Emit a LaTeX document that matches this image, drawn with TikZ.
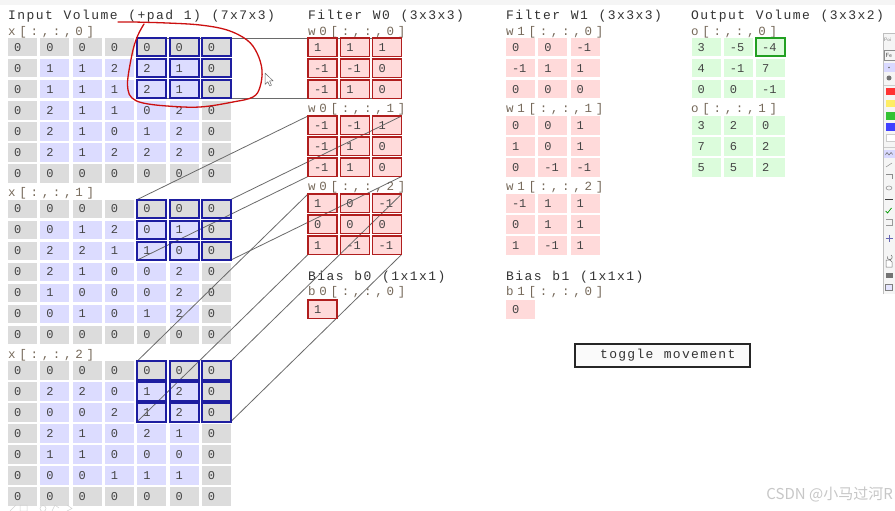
\documentclass[tikz,border=0pt]{standalone}
\usepackage{fontspec}
\setmonofont{Liberation Mono}
\newfontfamily\cjkfont{Noto Sans CJK SC}
\definecolor{padgray}{HTML}{DCDCDC}
\definecolor{inblue}{HTML}{DCDCFF}
\definecolor{pinkc}{HTML}{FFDADA}
\definecolor{greenc}{HTML}{DCFCDC}
\definecolor{navyb}{HTML}{1E1EA0}
\definecolor{redb}{HTML}{B01E1E}
\definecolor{greenb}{HTML}{22A022}
\definecolor{celltext}{HTML}{444444}
\definecolor{titletext}{HTML}{333333}
\definecolor{lbltext}{HTML}{76695A}
\definecolor{linegray}{HTML}{6A6A6A}
\definecolor{annot}{HTML}{CC1010}
\newlength\chw
\makeatletter
\def\mono@end{mono@end}
\def\mono#1#2{\chw=#1\relax\mono@loop#2\mono@end}
\def\mono@loop#1{\ifx#1\mono@end\else\makebox[\chw][l]{#1}\expandafter\mono@loop\fi}
\makeatother
\newcommand\cellfont{\ttfamily\fontsize{12}{12}\selectfont}
\newcommand\titlefont{\ttfamily\fontsize{13}{13}\selectfont}
\newcommand\lblfont{\ttfamily\fontsize{12.5}{12.5}\selectfont}
% input grid: #1 depth, #2 data
\newcommand\inputgrid[2]{%
  \foreach \row [count=\rr from 0] in {#2} {%
    \foreach \val [count=\cc from 0] in \row {%
      \pgfmathtruncatemacro\ispad{(\rr==0)||(\rr==6)||(\cc==0)||(\cc==6)}%
      \ifnum\ispad=1 \def\cfill{padgray}\else\def\cfill{inblue}\fi
      \node[gcell, fill=\cfill, anchor=north west] (x#1-\rr-\cc) at ({8+32.33*\cc},{38+161.5*#1+21*\rr}) {\val};
    }%
  }%
}
% small grid: #1 prefix, #2 x, #3 y, #4 fill, #5 data
\newcommand\fgrid[5]{%
  \foreach \row [count=\rr from 0] in {#5} {%
    \foreach \val [count=\cc from 0] in \row {%
      \node[gcell, fill=#4, anchor=north west] (#1-\rr-\cc) at ({#2+32.33*\cc},{#3+21*\rr}) {\val};
    }%
  }%
}
\begin{document}
\begin{tikzpicture}[x=1pt,y=-1pt,
  gcell/.style={rectangle, inner sep=0pt, inner xsep=6pt, text width=17pt,
    minimum height=18.5pt, align=left, font=\cellfont, text=celltext,
    text height=8pt, text depth=0pt, outer sep=0pt},
  ttl/.style={anchor=west, inner sep=0pt, font=\titlefont, text=titletext},
  lbl/.style={anchor=west, inner sep=0pt, font=\lblfont, text=lbltext},
  conn/.style={draw=linegray, line width=0.8pt},
  winb/.style={draw=navyb, line width=2pt},
  redbord/.style={draw=redb, line width=1.6pt},
  grnbord/.style={draw=greenb, line width=2pt}]
\useasboundingbox (0,0) rectangle (895,511);
\fill[white] (0,0) rectangle (895,511);
\fill[black!4] (0,0) rectangle (895,5);

% ---------- titles and labels ----------
\node[ttl] (t-in) at (8,16.5) {\mono{9.25pt}{Input~Volume~(+pad~1)~(7x7x3)}};
\node[ttl] (t-w0) at (308,16.5) {\mono{9.25pt}{Filter~W0~(3x3x3)}};
\node[ttl] (t-w1) at (506,16.5) {\mono{9.25pt}{Filter~W1~(3x3x3)}};
\node[ttl] (t-o) at (691,16.5) {\mono{9.25pt}{Output~Volume~(3x3x2)}};
\node[lbl] (l-x0) at (8,32) {\mono{11.2pt}{x[:,:,0]}};
\node[lbl] (l-x1) at (8,193.5) {\mono{11.2pt}{x[:,:,1]}};
\node[lbl] (l-x2) at (8,355) {\mono{11.2pt}{x[:,:,2]}};
\node[lbl] (l-w00) at (308,32) {\mono{11.2pt}{w0[:,:,0]}};
\node[lbl] (l-w01) at (308,109.5) {\mono{11.2pt}{w0[:,:,1]}};
\node[lbl] (l-w02) at (308,187.5) {\mono{11.2pt}{w0[:,:,2]}};
\node[lbl] (l-w10) at (506,32) {\mono{11.2pt}{w1[:,:,0]}};
\node[lbl] (l-w11) at (506,109.5) {\mono{11.2pt}{w1[:,:,1]}};
\node[lbl] (l-w12) at (506,187.5) {\mono{11.2pt}{w1[:,:,2]}};
\node[lbl] (l-o0) at (691,32) {\mono{11.2pt}{o[:,:,0]}};
\node[lbl] (l-o1) at (691,109.5) {\mono{11.2pt}{o[:,:,1]}};
\node[ttl] (t-b0) at (308,277) {\mono{9.25pt}{Bias~b0~(1x1x1)}};
\node[ttl] (t-b1) at (506,277) {\mono{9.25pt}{Bias~b1~(1x1x1)}};
\node[lbl] (l-b0) at (308,292.5) {\mono{11.2pt}{b0[:,:,0]}};
\node[lbl] (l-b1) at (506,292.5) {\mono{11.2pt}{b1[:,:,0]}};

% ---------- input volume ----------
\inputgrid{0}{{0,0,0,0,0,0,0},{0,1,1,2,2,1,0},{0,1,1,1,2,1,0},{0,2,1,1,0,2,0},{0,2,1,0,1,2,0},{0,2,1,2,2,2,0},{0,0,0,0,0,0,0}}
\inputgrid{1}{{0,0,0,0,0,0,0},{0,0,1,2,0,1,0},{0,2,2,1,1,0,0},{0,2,1,0,0,2,0},{0,1,0,0,0,2,0},{0,0,1,0,1,2,0},{0,0,0,0,0,0,0}}
\inputgrid{2}{{0,0,0,0,0,0,0},{0,2,2,0,1,2,0},{0,0,0,2,1,2,0},{0,2,1,0,2,1,0},{0,1,1,0,0,0,0},{0,0,0,1,1,1,0},{0,0,0,0,0,0,0}}

% ---------- filters ----------
\fgrid{w0-0}{308}{38}{pinkc}{{1,1,1},{-1,-1,0},{-1,1,0}}
\fgrid{w0-1}{308}{116}{pinkc}{{-1,-1,1},{-1,1,0},{-1,1,0}}
\fgrid{w0-2}{308}{194}{pinkc}{{1,0,-1},{0,0,0},{1,-1,-1}}
\fgrid{w1-0}{506}{38}{pinkc}{{0,0,-1},{-1,1,1},{0,0,0}}
\fgrid{w1-1}{506}{116}{pinkc}{{0,0,1},{1,0,1},{0,-1,-1}}
\fgrid{w1-2}{506}{194}{pinkc}{{-1,1,1},{0,1,1},{1,-1,1}}
\fgrid{o-0}{691.5}{38}{greenc}{{3,-5,-4},{4,-1,7},{0,0,-1}}
\fgrid{o-1}{691.5}{116}{greenc}{{3,2,0},{7,6,2},{5,5,2}}
\node[gcell, fill=pinkc, anchor=north west] (b0) at (308,300) {1};
\node[gcell, fill=pinkc, anchor=north west] (b1) at (506,300) {0};

% ---------- connectors ----------
\foreach \d in {0,1,2} {
  \draw[conn] (x\d-0-4.north west) -- (w0-\d-0-0.north west);
  \draw[conn] (x\d-0-6.north east) -- (w0-\d-0-2.north east);
  \draw[conn] (x\d-2-4.south west) -- (w0-\d-2-0.south west);
  \draw[conn] (x\d-2-6.south east) -- (w0-\d-2-2.south east);
}

% ---------- highlight borders ----------
\foreach \d in {0,1,2} {
  \foreach \rr in {0,1,2} {
    \foreach \cc in {4,5,6} {
      \draw[winb] (x\d-\rr-\cc.north west) rectangle (x\d-\rr-\cc.south east);
    }
    \foreach \cc in {0,1,2} {
      \draw[redbord] (w0-\d-\rr-\cc.north west) rectangle (w0-\d-\rr-\cc.south east);
    }
  }
}
\draw[redbord] (b0.north west) rectangle (b0.south east);
\draw[grnbord] (o-0-0-2.north west) rectangle (o-0-0-2.south east);

% ---------- toggle button ----------
\node[draw=black!85, line width=1.8pt, fill=black!2, minimum width=175pt, minimum height=23pt, inner sep=0pt] (toggle) at (662.5,355.5) {};
\node[ttl] (toggle-t) at (600,355.5) {\mono{9.1pt}{toggle~movement}};

% ---------- hand-drawn annotation ----------
\draw[annot, line width=1.3pt, line cap=round, line join=round] plot[smooth, tension=0.6] coordinates {
  (118,22) (133,22) (167,23) (200,25) (227,30) (247,40) (257,53) (262,70) (260,87)
  (253,97) (233,102) (200,107) (167,106) (143,103) (132,98) (128,90) (128,77)
  (133,50) (138,35) (144,24)};
% mouse cursor
\draw[black!60, fill=white, line width=0.5pt, line join=round] (265,73) -- (265,84.5) -- (267.8,81.8) -- (269.8,86) -- (271.5,85.2) -- (269.6,81) -- (273.2,81) -- cycle;

% ---------- right-hand tool palette (cut off) ----------
\fill[black!4] (883,33) rectangle (895,294);
\draw[black!25] (883,294) -- (883,33) -- (895,33);
\node[anchor=west, inner sep=0pt, font=\sffamily\fontsize{5}{5}\selectfont, text=black!50] (tp-t) at (884,40) {Poi};
\draw[black!45] (884.5,50) rectangle (895.5,60);
\node[anchor=west, inner sep=0pt, font=\sffamily\fontsize{6}{6}\selectfont, text=black!70] (tp-f) at (885.5,55) {Fe};
\fill[blue!15] (884,63) rectangle (895,72);
\fill[black!60] (889,67.5) circle (0.8);
\fill[black!55] (889,78) circle (2.5);
\draw[black!20] (884,85) -- (895,85);
\fill[red!80] (886,88) rectangle (895,95.5);
\fill[yellow!85!orange!60] (886,100) rectangle (895,107.5);
\fill[green!70!black!80] (886,112) rectangle (895,119.5);
\fill[blue!75] (886,123) rectangle (895,130.5);
\draw[black!20, fill=white] (886,134) rectangle (895,141.5);
\draw[black!20] (884,147) -- (895,147);
\fill[blue!15] (884,150) rectangle (895,158);
\draw[black!60, line width=0.5pt] plot[smooth] coordinates {(885.5,155) (887,152.5) (889,155) (891,152.5) (892.5,154.5)};
\draw[black!45, line width=0.5pt] (886,167) -- (892,163);
\draw[black!45, line width=0.5pt] (886,174) -- (892,174) -- (892,179);
\draw[black!45, line width=0.5pt] (889,188) ellipse (3 and 2);
\draw[black!75, line width=1pt] (885,199) -- (893,199);
\draw[green!60!black, line width=0.7pt] (885.5,211) -- (887.5,213) -- (891.5,208);
\draw[black!40, line width=0.5pt] (886,219) -- (892,219) -- (892,225) -- (886,225);
\draw[blue!50!black!60, line width=0.8pt] (889,234.5) -- (889,241.5) (885.5,238) -- (892.5,238);
\draw[black!55, line width=0.6pt] (891,255) arc (-60:200:2.5);
\draw[black!55, line width=0.5pt, fill=white] (886,260) -- (890,260) -- (892,262) -- (892,267) -- (886,267) -- cycle;
\fill[black!55] (885.5,273) rectangle (892.5,278);
\draw[black!50, fill=blue!10, line width=0.5pt] (885.5,284) rectangle (892.5,290);

% ---------- faint bottom-left icons ----------
\draw[black!18, line width=0.5pt] (10,511) -- (16,505) (20,505) rectangle (27,511);
\draw[black!18, line width=0.5pt] (43,508.5) circle (3);
\draw[black!18, line width=0.5pt] (52,511) -- (55,505) -- (59,508) (67,505) -- (72,508.5) -- (67,511);

% ---------- watermark ----------
\node[anchor=east, inner sep=0pt, font=\cjkfont\fontsize{15}{15}\selectfont, text=black!22] (wm) at (893,495) {CSDN @小马过河R};
\end{tikzpicture}
\end{document}
